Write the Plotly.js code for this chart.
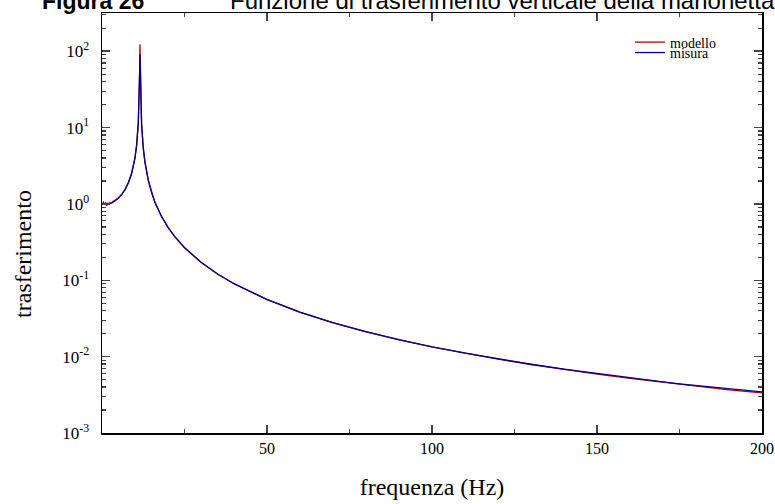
<!DOCTYPE html>
<html>
<head>
<meta charset="utf-8">
<script src="https://cdn.plot.ly/plotly-3.0.1.min.js"></script>
<style>html,body{margin:0;padding:0;background:#fff;}#chart{width:775px;height:504px;}</style>
</head>
<body>
<div id="chart"></div>
<script>
// Frequencies (Hz) and transfer values
const freqModel = [0.3, 1, 2, 3, 4, 5, 6, 7, 8, 9, 10, 10.5, 11, 11.2, 11.4, 11.5, 11.6, 11.8, 12, 12.5, 13, 14, 15, 16, 18, 20, 22, 25, 30, 35, 40, 50, 60, 70, 80, 90, 100, 110, 120, 130, 140, 150, 160, 170, 180, 190, 200];
const modello   = [1.0, 1.006, 1.02, 1.05, 1.11, 1.20, 1.34, 1.55, 1.90, 2.54, 4.05, 5.95, 11.6, 19.2, 52, 123, 51, 18.6, 11.1, 5.45, 3.57, 2.06, 1.42, 1.065, 0.69, 0.494, 0.376, 0.268, 0.172, 0.121, 0.090, 0.0559, 0.0381, 0.0277, 0.0211, 0.0166, 0.0134, 0.01105, 0.00927, 0.00789, 0.00679, 0.00591, 0.00519, 0.0046, 0.0041, 0.00368, 0.00335];

const freqMisura = [0.3, 0.6, 1, 1.4, 2, 3, 4, 5, 6, 7, 8, 9, 10, 10.5, 11, 11.2, 11.4, 11.5, 11.6, 11.8, 12, 12.5, 13, 14, 15, 16, 18, 20, 22, 25, 30, 35, 40, 50, 60, 70, 80, 90, 100, 110, 120, 130, 140, 150, 155, 160, 165, 170, 175, 180, 183, 186, 190, 193, 196, 200];
const misura     = [1.08, 0.98, 1.03, 0.96, 1.0, 1.03, 1.10, 1.19, 1.33, 1.54, 1.89, 2.52, 4.0, 5.9, 11.5, 19.0, 50, 91, 49, 18.4, 11.0, 5.42, 3.55, 2.05, 1.41, 1.06, 0.688, 0.493, 0.375, 0.267, 0.172, 0.121, 0.0902, 0.0561, 0.0382, 0.0278, 0.0212, 0.0167, 0.01345, 0.0111, 0.0093, 0.00795, 0.00684, 0.00598, 0.0056, 0.00525, 0.0049, 0.00466, 0.0044, 0.00418, 0.00405, 0.0040, 0.00377, 0.0037, 0.0036, 0.00345];

const xTickVals = [50, 100, 150, 200];
const yTickVals = [0.001, 0.01, 0.1, 1, 10, 100];
const yTickText = ["10<sup>-3</sup>", "10<sup>-2</sup>", "10<sup>-1</sup>", "10<sup>0</sup>", "10<sup>1</sup>", "10<sup>2</sup>"];
const titleLeft = "Figura 26";
const titleMain = "Funzione di trasferimento verticale della marionetta";

// minor tick positions for the log axis (2..9 in each decade)
const yMinor = [];
for (let e = -3; e <= 2; e++) for (let m = 2; m <= 9; m++) yMinor.push(m * Math.pow(10, e));

const serif = "Liberation Serif, Times New Roman, serif";

const data = [
  {x: freqModel, y: modello, type: "scatter", mode: "lines", name: "modello",
   line: {color: "#B00000", width: 1.3}, legend: "legend"},
  {x: freqMisura, y: misura, type: "scatter", mode: "lines", name: "misura",
   line: {color: "#00008E", width: 1.3}, legend: "legend2"}
];

const legendBase = {
  xanchor: "left", yanchor: "top", bgcolor: "rgba(0,0,0,0)",
  font: {family: serif, size: 14, color: "#000"}, borderwidth: 0
};

const layout = {
  width: 775, height: 504,
  margin: {l: 102, r: 13, t: 13, b: 71},
  paper_bgcolor: "#fff", plot_bgcolor: "#fff",
  showlegend: true,
  legend: Object.assign({}, legendBase, {x: 0.80, y: 0.968}),
  legend2: Object.assign({}, legendBase, {x: 0.80, y: 0.943}),
  xaxis: {
    range: [0, 200], tickvals: xTickVals, ticks: "inside", ticklen: 8, tickwidth: 1.5,
    showline: true, linecolor: "#000", linewidth: 1.5, mirror: "ticks", showgrid: false, zeroline: false,
    tickfont: {family: serif, size: 16, color: "#000"},
    minor: {ticks: "inside", ticklen: 4, tickwidth: 1.5, dtick: 25, tick0: 0, showgrid: false},
    title: {text: "frequenza (Hz)", font: {family: serif, size: 24, color: "#000"}, standoff: 22}
  },
  yaxis: {
    type: "log", range: [-3, 2.5], tickmode: "array", tickvals: yTickVals, ticktext: yTickText,
    ticks: "inside", ticklen: 8, tickwidth: 1.5,
    showline: true, linecolor: "#000", linewidth: 1.5, mirror: "ticks", showgrid: false, zeroline: false,
    tickfont: {family: serif, size: 17, color: "#000"}, ticklabelstandoff: 8,
    minor: {tickmode: "array", tickvals: yMinor, ticks: "inside", ticklen: 4, tickwidth: 1.2, showgrid: false}
  },
  annotations: [
    {text: "<b>" + titleLeft + "</b>", xref: "paper", yref: "paper", x: (40 - 102) / 660, y: 1, xanchor: "left", yanchor: "bottom", yshift: -3, showarrow: false,
     font: {family: "Liberation Sans, Arial, sans-serif", size: 23, color: "#000"}},
    {text: titleMain, xref: "paper", yref: "paper", x: (228 - 102) / 660, y: 1, xanchor: "left", yanchor: "bottom", yshift: -3, showarrow: false,
     font: {family: "Liberation Sans, Arial, sans-serif", size: 24, color: "#000"}},
    {text: "trasferimento", xref: "paper", yref: "paper", x: (23 - 102) / 660, y: (433 - 254) / 420, xanchor: "center", yanchor: "middle", textangle: -90, showarrow: false,
     font: {family: serif, size: 24, color: "#000"}}
  ]
};

Plotly.newPlot("chart", data, layout, {displayModeBar: false, staticPlot: true});
</script>
</body>
</html>
